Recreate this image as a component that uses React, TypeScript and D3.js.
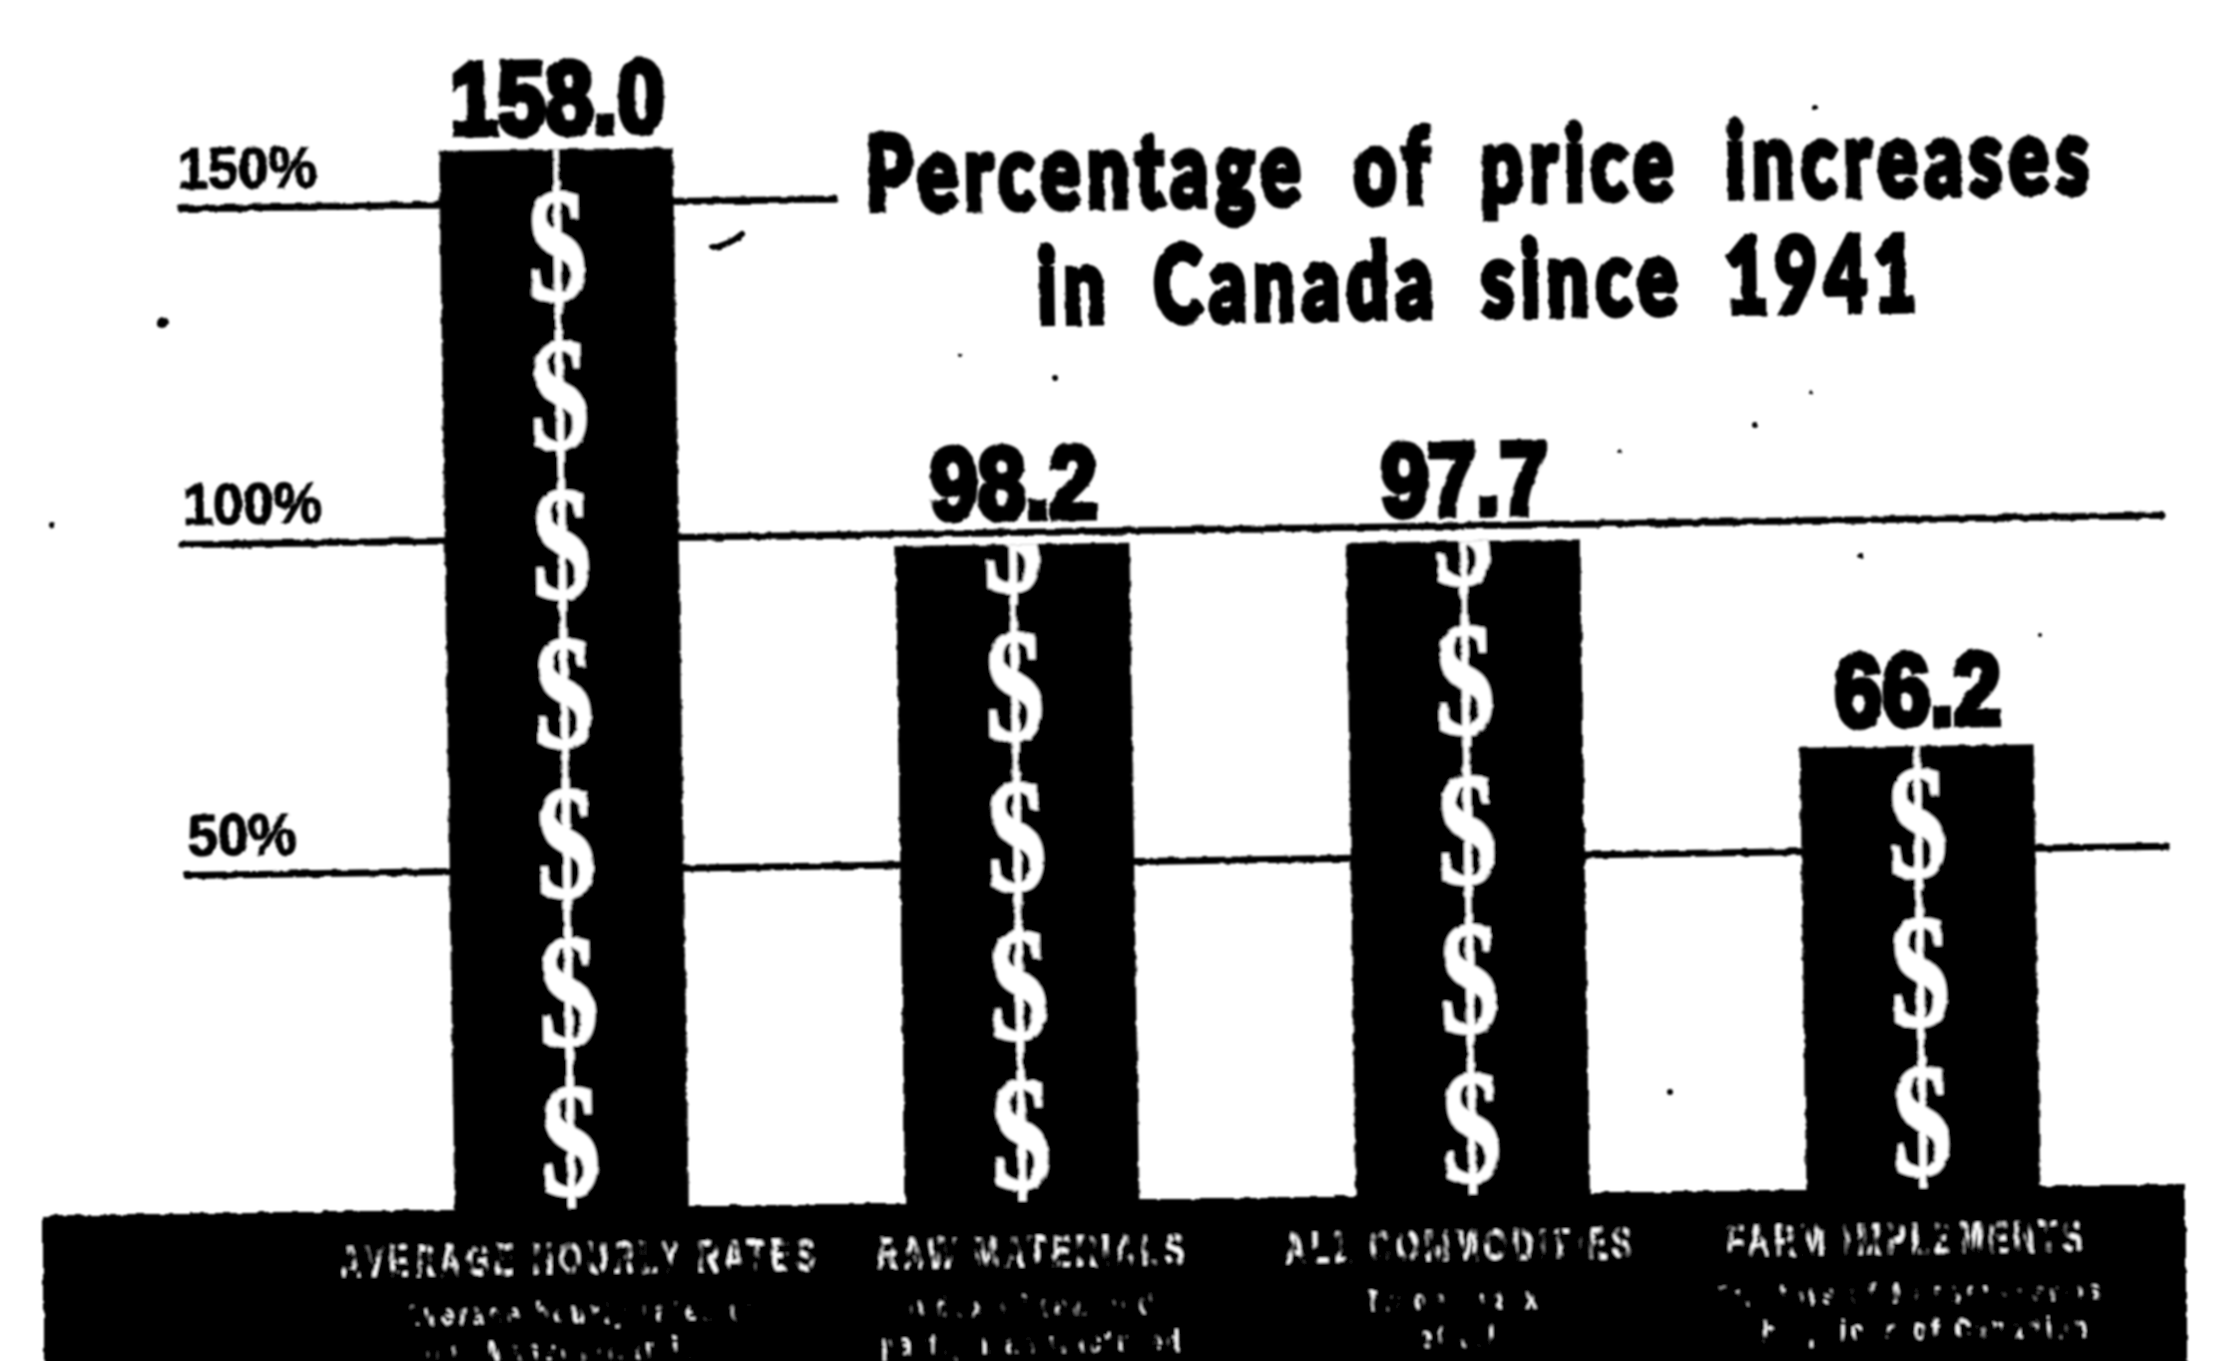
import React from "react";
import * as d3 from "d3";

const categories = ["AVERAGE HOURLY RATES", "RAW MATERIALS", "ALL COMMODITIES", "FARM IMPLEMENTS"];
const values = [158.0, 98.2, 97.7, 66.2];
const valueLabels = ["158.0", "98.2", "97.7", "66.2"];
const subLabelsA = ["Average hourly rates of", "Index of raw and", "Trade index", "Tractors of Massey-Harris"];
const subLabelsB = ["our Massey-Harris", "partly manufactured", "of all", "the prices of Canadian"];
const gridValues = [50, 100, 150];
const gridLabels = ["50%", "100%", "150%"];
const titleLines = ["Percentage of price increases", "in Canada since 1941"];
const specks: [number, number, number][] = [
  [163, 323, 6], [52, 525, 3], [1055, 378, 3], [1815, 108, 3], [1755, 425, 3],
  [1860, 555, 3], [1620, 452, 2], [2040, 635, 2], [1670, 1092, 3], [1810, 392, 2], [960, 355, 2],
];

const W = 2229, H = 1361;
const baseY = 1203;
const y = d3.scaleLinear().domain([0, 160]).range([baseY, baseY - 1075]);
const band = d3.scaleBand().domain(categories).range([459, 2036]).paddingInner(0.5);
const dollarStart = 10, dollarStep = 22.2;
const narrow = "'Liberation Sans','Arial'";

const labelGap = [16, 26, 27, 21];
const gridNudge = [-5, 0, 0];
const titleX = [1496, 1494];
const titleSx = [0.715, 0.71];
const titleWs = [30, 24];
const catX = [579, 1032, 1460, 1906];
const subAX = [581, 1031, 1453, 1908];
const subBX = [561, 1031, 1457, 1919];

function Squeezed({ x, y, sx, children, ...rest }: any) {
  return (
    <g transform={`translate(${x},${y}) scale(${sx},1)`}>
      <text x={0} y={0} {...rest}>{children}</text>
    </g>
  );
}

export default function App() {
  const bw = 234;
  const cx = (i: number) => (band(categories[i]) as number) + band.bandwidth() / 2;
  return (
    <svg width={W} height={H} viewBox={`0 0 ${W} ${H}`} style={{ position: "absolute", left: 0, top: 0, background: "#fff" }}>
      <defs>
        <filter id="ink" x="-5%" y="-5%" width="110%" height="110%">
          <feTurbulence type="fractalNoise" baseFrequency="0.09" numOctaves="2" seed="4" result="n" />
          <feDisplacementMap in="SourceGraphic" in2="n" scale="4" />
          <feGaussianBlur stdDeviation="1.2" />
        </filter>
        <filter id="worn" x="0" y="0" width="100%" height="100%" filterUnits="userSpaceOnUse" primitiveUnits="userSpaceOnUse">
          <feTurbulence type="fractalNoise" baseFrequency="0.11 0.05" numOctaves="2" seed="9" result="n" />
          <feColorMatrix in="n" type="matrix" values="0 0 0 0 1  0 0 0 0 1  0 0 0 0 1  7 0 0 0 -2.9" result="mask" />
          <feComposite in="SourceGraphic" in2="mask" operator="in" />
        </filter>
        <filter id="worn2" x="0" y="0" width="100%" height="100%" filterUnits="userSpaceOnUse" primitiveUnits="userSpaceOnUse">
          <feTurbulence type="fractalNoise" baseFrequency="0.09 0.04" numOctaves="2" seed="21" result="n" />
          <feColorMatrix in="n" type="matrix" values="0 0 0 0 1  0 0 0 0 1  0 0 0 0 1  9 0 0 0 -4.7" result="mask" />
          <feComposite in="SourceGraphic" in2="mask" operator="in" />
        </filter>
        {values.map((v, i) => (
          <clipPath id={`bar${i}`} key={i}>
            <rect x={cx(i) - bw / 2} y={y(v)} width={bw} height={baseY - y(v)} />
          </clipPath>
        ))}
      </defs>
      <g filter="url(#ink)">
        <g transform={`rotate(-0.85 1100 1200)`}>
          {gridValues.map((g, i) => {
            const isTop = g === 150;
            const gy = y(g) + gridNudge[i];
            return (
              <g key={g}>
                <line x1={isTop ? 196 : 192} x2={isTop ? 850 : 2172} y1={gy} y2={gy} stroke="#000" strokeWidth={7} strokeLinecap="round" />
                <Squeezed x={193} y={gy - 20} sx={0.94} fontFamily={narrow} fontWeight={700} fontSize={58} fill="#000" stroke="#000" strokeWidth={1.5}>{gridLabels[i]}</Squeezed>
              </g>
            );
          })}
          {values.map((v, i) => {
            const dollars = d3.range(0, 8).map((k) => dollarStart + k * dollarStep).filter((d) => d < v + 2);
            return (
              <g key={categories[i]}>
                <rect x={cx(i) - bw / 2} y={y(v)} width={bw} height={baseY - y(v) + 20} fill="#000" />
                <Squeezed x={cx(i) + 2} y={y(v) - labelGap[i]} sx={0.84} textAnchor="middle" fontFamily={narrow} fontWeight={700} fontSize={102} fill="#000" stroke="#000" strokeWidth={7}>{valueLabels[i]}</Squeezed>
                <g clipPath={`url(#bar${i})`}>
                  {dollars.map((d) => (
                    <g key={d}>
                      <line x1={cx(i)} x2={cx(i)} y1={y(d + dollarStep / 2) - 30} y2={y(d + dollarStep / 2) + 30} stroke="#fff" strokeWidth={5} />
                      <line x1={cx(i)} x2={cx(i)} y1={y(d - dollarStep / 2) - 30} y2={y(d - dollarStep / 2) + 18} stroke="#fff" strokeWidth={5} />
                      <Squeezed x={cx(i)} y={y(d) + 51} sx={0.72} textAnchor="middle" fontFamily="'Liberation Serif'" fontWeight={700} fontSize={160} fill="#fff" stroke="#fff" strokeWidth={2.5}>$</Squeezed>
                    </g>
                  ))}
                </g>
              </g>
            );
          })}
          {/* footer band */}
          <rect x={42} y={baseY - 3} width={2143} height={300} fill="#000" />
          <g fontFamily={narrow} textAnchor="middle" fill="#fff">
            <g filter="url(#worn)">
              {categories.map((c, i) => (
                <Squeezed key={c} x={catX[i]} y={baseY + 63} sx={0.66} fontSize={45} fontWeight={700} letterSpacing={7.5}>{c}</Squeezed>
              ))}
            </g>
            <g filter="url(#worn2)">
              {subLabelsA.map((c, i) => (
                <Squeezed key={c} x={subAX[i]} y={baseY + 112} sx={0.72} fontSize={30} fontWeight={700} letterSpacing={7}>{c}</Squeezed>
              ))}
              {subLabelsB.map((c, i) => (
                <Squeezed key={c} x={subBX[i]} y={baseY + 149} sx={0.72} fontSize={30} fontWeight={700} letterSpacing={7}>{c}</Squeezed>
              ))}
            </g>
          </g>
          {titleLines.map((t, i) => (
            <Squeezed key={t} x={titleX[i]} y={207 + i * 115} sx={titleSx[i]} textAnchor="middle" fontFamily="'Lato','Liberation Sans'" fontWeight={900} fontSize={103} letterSpacing={10} wordSpacing={titleWs[i]} fill="#000" stroke="#000" strokeWidth={7}>{t}</Squeezed>
          ))}
        </g>
        {specks.map(([sx, sy, r], i) => (
          <circle key={i} cx={sx} cy={sy} r={r} fill="#000" />
        ))}
        <path d="M 713 247 Q 728 246 742 234" stroke="#000" strokeWidth={6} fill="none" strokeLinecap="round" />
      </g>
    </svg>
  );
}
